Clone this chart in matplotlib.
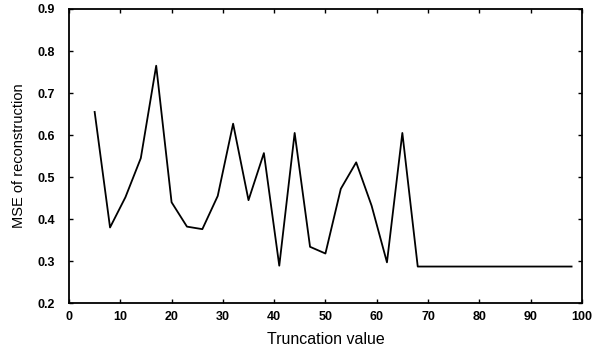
import matplotlib
matplotlib.use("Agg")
import matplotlib.pyplot as plt

# truncation values and MSE
trunc = [5, 8, 11, 14, 17, 20, 23, 26, 29, 32, 35, 38, 41, 44, 47, 50,
         53, 56, 59, 62, 65, 68, 71, 74, 77, 80, 83, 86, 89, 92, 95, 98]
mse = [0.655, 0.38, 0.452, 0.545, 0.765, 0.44, 0.382, 0.376, 0.455, 0.627,
       0.445, 0.557, 0.289, 0.605, 0.334, 0.318, 0.472, 0.535, 0.432, 0.297,
       0.605, 0.287, 0.287, 0.287, 0.287, 0.287, 0.287, 0.287, 0.287, 0.287,
       0.287, 0.287]

xticks = [0, 10, 20, 30, 40, 50, 60, 70, 80, 90, 100]
yticks = [0.2, 0.3, 0.4, 0.5, 0.6, 0.7, 0.8, 0.9]

plt.rcParams['font.family'] = ['Liberation Sans', 'DejaVu Sans']

fig = plt.figure(figsize=(5.97, 3.46), dpi=100)
ax = fig.add_axes([0.1156, 0.124, 0.859, 0.85])

ax.plot(trunc, mse, color='black', linewidth=1.3)

ax.set_xlim(0, 100)
ax.set_ylim(0.2, 0.9)
ax.set_xticks(xticks)
ax.set_yticks(yticks)
ax.set_xticklabels([str(t) for t in xticks])
ax.set_yticklabels([f"{t:.1f}" for t in yticks])
ax.tick_params(direction='in', top=True, right=True, length=3,
               labelsize=9, width=1)
ax.tick_params(axis='x', pad=6)
ax.tick_params(axis='y', pad=10)
for lab in ax.get_xticklabels() + ax.get_yticklabels():
    lab.set_fontweight('bold')
for s in ax.spines.values():
    s.set_linewidth(1.3)

ax.set_xlabel("Truncation value", fontsize=11.5, labelpad=6)
ax.set_ylabel("MSE of reconstruction", fontsize=10.5, labelpad=8)

fig.savefig("out.png", dpi=100)
